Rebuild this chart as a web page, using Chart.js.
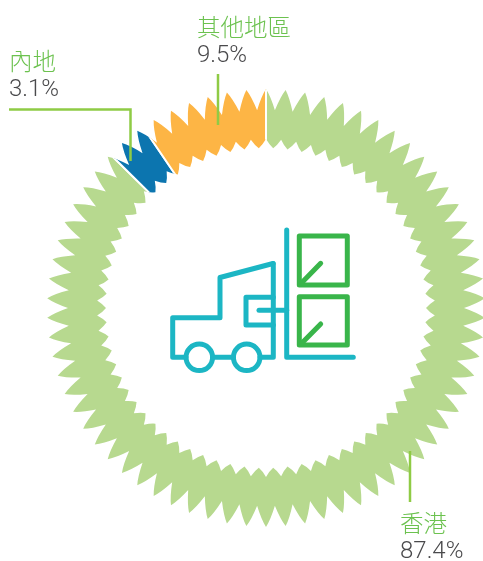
<!DOCTYPE html>
<html lang="zh-Hant">
<head>
<meta charset="utf-8">
<style>
html,body{margin:0;padding:0;background:#fff;overflow:hidden}
#wrap{position:relative;width:483px;height:561px;overflow:hidden}
canvas{display:block}
</style>
<script src="https://cdn.jsdelivr.net/npm/chart.js@4/dist/chart.umd.min.js"></script>
</head>
<body>
<div id="wrap"><canvas id="c" width="532" height="561"></canvas></div>
<script>
const categories = ['香港', '內地', '其他地區'];
const shareValues = [87.4, 3.1, 9.5];
const sliceColors = ['#B7D98F', '#0C75AF', '#FDB545'];
const percentLabels = ['87.4%', '3.1%', '9.5%'];

const toothCount = 70;
const tipOuter = 219, valleyOuter = 198, valleyInner = 169, tipInner = 160;

function polar(cx, cy, r, a) {
  return [cx + r * Math.sin(a), cy - r * Math.cos(a)];
}

const scallopClip = {
  id: 'scallopClip',
  beforeDatasetsDraw(chart) {
    const arc = chart.getDatasetMeta(0).data[0];
    const cx = arc.x, cy = arc.y, ctx = chart.ctx;
    const p = 2 * Math.PI / toothCount;
    ctx.save();
    ctx.beginPath();
    let s = polar(cx, cy, valleyOuter, -p / 2);
    ctx.moveTo(s[0], s[1]);
    for (let i = 0; i < toothCount; i++) {
      const a = i * p;
      let c = polar(cx, cy, tipOuter - 7, a - p * 0.24);
      let e = polar(cx, cy, tipOuter, a);
      ctx.quadraticCurveTo(c[0], c[1], e[0], e[1]);
      c = polar(cx, cy, tipOuter - 7, a + p * 0.24);
      e = polar(cx, cy, valleyOuter, a + p / 2);
      ctx.quadraticCurveTo(c[0], c[1], e[0], e[1]);
    }
    ctx.closePath();
    s = polar(cx, cy, valleyInner, 0);
    ctx.moveTo(s[0], s[1]);
    for (let i = 0; i < toothCount; i++) {
      const a = i * p;
      let c = polar(cx, cy, tipInner + 3, a + p * 0.24);
      let e = polar(cx, cy, tipInner, a + p / 2);
      ctx.quadraticCurveTo(c[0], c[1], e[0], e[1]);
      c = polar(cx, cy, tipInner + 3, a + p * 0.76);
      e = polar(cx, cy, valleyInner, a + p);
      ctx.quadraticCurveTo(c[0], c[1], e[0], e[1]);
    }
    ctx.closePath();
    ctx.clip('evenodd');
  },
  afterDatasetsDraw(chart) {
    chart.ctx.restore();
  }
};

const teal = '#1CB6C4', boxGreen = '#39B54A', leader = '#8FCB45';
const labelGreen = '#6CC24F', labelGrey = '#58595B';

const annotations = {
  id: 'annotations',
  afterDraw(chart) {
    const ctx = chart.ctx;
    ctx.save();
    ctx.lineCap = 'round';
    ctx.lineJoin = 'round';

    ctx.lineWidth = 5;
    ctx.strokeStyle = teal;
    [
      'M286.7 230V357.3H353.3',
      'M273 263.5L220 277.5V317.7H172.7V357.3H186',
      'M212.5 357.3H233.5M260 357.3H273.3V263.5',
      'M273.3 297.3H246V325H273.3',
      'M259 310.3H286.7'
    ].forEach(d => ctx.stroke(new Path2D(d)));
    [199.3, 246.7].forEach(x => {
      ctx.beginPath();
      ctx.arc(x, 357.3, 13.3, 0, 2 * Math.PI);
      ctx.stroke();
    });
    ctx.strokeStyle = boxGreen;
    [
      'M299.3 236H347.3V285H299.3Z',
      'M320.7 263.3L301.7 282.7',
      'M299.3 296.7H347.3V345H299.3Z',
      'M320.7 324L301.7 343.3'
    ].forEach(d => ctx.stroke(new Path2D(d)));

    ctx.lineCap = 'butt';
    ctx.lineJoin = 'miter';
    ctx.lineWidth = 2.5;
    ctx.strokeStyle = leader;
    [
      'M9 109.5H130.5V161',
      'M218 74V125',
      'M410 451V502'
    ].forEach(d => ctx.stroke(new Path2D(d)));

    const spots = [
      [400, 532, 400, 558],
      [9, 70, 9, 96],
      [197, 36, 197, 62]
    ];
    ctx.textBaseline = 'alphabetic';
    ctx.textAlign = 'left';
    categories.forEach((name, i) => {
      const s = spots[i];
      ctx.font = '300 23.5px "Noto Sans CJK TC"';
      ctx.fillStyle = labelGreen;
      ctx.fillText(name, s[0], s[1]);
      ctx.font = '300 24px Roboto';
      ctx.fillStyle = '#4A4A4C';
      ctx.fillText(percentLabels[i], s[2], s[3]);
    });
    ctx.restore();
  }
};

new Chart(document.getElementById('c'), {
  type: 'doughnut',
  data: {
    labels: categories,
    datasets: [{
      data: shareValues,
      backgroundColor: sliceColors,
      borderColor: '#ffffff',
      borderWidth: 2
    }]
  },
  options: {
    responsive: false,
    animation: false,
    cutout: '68%',
    layout: { padding: { left: 44, right: 44, top: 86, bottom: 31 } },
    plugins: { legend: { display: false }, tooltip: { enabled: false } }
  },
  plugins: [scallopClip, annotations]
});
</script>
</body>
</html>
